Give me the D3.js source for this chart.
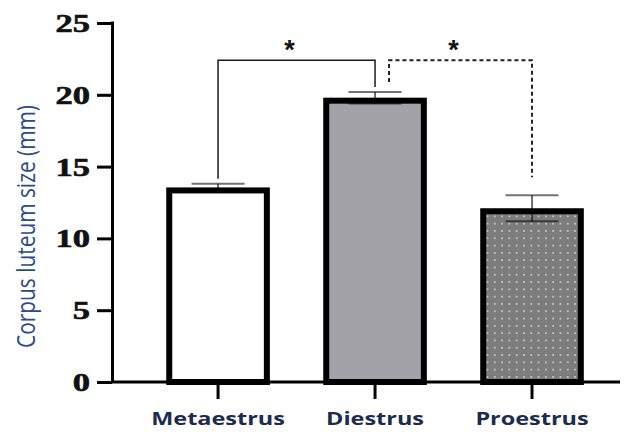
<!DOCTYPE html>
<html><head><meta charset="utf-8">
<script src="https://cdn.jsdelivr.net/npm/d3@7"></script>
<style>html,body{margin:0;padding:0;background:#fff;} svg{display:block}</style>
</head><body>
<script>
// ---- data ----
const categories = ["Metaestrus", "Diestrus", "Proestrus"];
const means = [13.55, 19.8, 12.1];
const sems = [0.25, 0.4, 0.9];
const yTicks = [0, 5, 10, 15, 20, 25];
const yLabel = "Corpus luteum size (mm)";
const compFrom = ["Metaestrus", "Diestrus"];
const compTo = ["Diestrus", "Proestrus"];
const compLabels = ["*", "*"];
const compLevel = [22.4, 22.4];

// ---- layout ----
const W = 625, H = 432;
const axisX = 112, axisY = 382, topY = 23, rightX = 620;
const stretch = 1.38;

const svg = d3.select("body").append("svg").attr("width", W).attr("height", H)
  .style("background", "#fff");

const defs = svg.append("defs");
const pat = defs.append("pattern").attr("id", "dots").attr("patternUnits", "userSpaceOnUse")
  .attr("width", 7.3).attr("height", 7.3).attr("x", 2).attr("y", 1);
pat.append("rect").attr("width", 7.3).attr("height", 7.3).attr("fill", "#7d7d7d");
pat.append("circle").attr("cx", 3.65).attr("cy", 3.65).attr("r", 0.9).attr("fill", "#d8d8d8");

const y = d3.scaleLinear().domain([0, 25]).range([axisY, topY]);
const x = d3.scaleBand().domain(categories).range([axisX, rightX])
  .paddingInner(0.34).paddingOuter(0.288).align(0.6);

const fills = ["#ffffff", "#a3a2a8", "url(#dots)"];
const bw = x.bandwidth();
const bs = 6;

// bars
const data = categories.map((c, i) => ({c, m: means[i], s: sems[i], f: fills[i]}));
svg.append("g").selectAll("rect").data(data).join("rect")
  .attr("x", d => x(d.c) + bs / 2)
  .attr("y", d => y(d.m) + bs / 2)
  .attr("width", bw - bs)
  .attr("height", d => y(0) - y(d.m) - bs / 2)
  .attr("fill", d => d.f)
  .attr("stroke", "#000").attr("stroke-width", bs);

// error bars
const eb = svg.append("g");
const capW = 53;
data.forEach(d => {
  const cx = x(d.c) + bw / 2;
  eb.append("line").attr("x1", cx).attr("x2", cx)
    .attr("y1", y(d.m + d.s)).attr("y2", y(d.m - d.s))
    .attr("stroke", "#000").attr("stroke-opacity", 0.75).attr("stroke-width", 1.5);
  [d.m + d.s, d.m - d.s].forEach(v => {
    eb.append("line").attr("x1", cx - capW / 2).attr("x2", cx + capW / 2)
      .attr("y1", y(v)).attr("y2", y(v))
      .attr("stroke", "#000").attr("stroke-opacity", 0.55).attr("stroke-width", 2);
  });
});

// significance brackets
const br = svg.append("g");
const legGaps = [[5, 5], [10, 18]];
const legShift = [[0, 0], [14, 0]];
compFrom.forEach((a, i) => {
  const b = compTo[i];
  const ia = categories.indexOf(a), ib = categories.indexOf(b);
  const xa = x(a) + bw / 2 + legShift[i][0];
  const xb = x(b) + bw / 2 + legShift[i][1];
  const yl = y(compLevel[i]);
  const ya = y(means[ia] + sems[ia]) - legGaps[i][0];
  const yb = y(means[ib] + sems[ib]) - legGaps[i][1];
  br.append("path")
    .attr("d", `M${xa},${ya}V${yl}H${xb}V${yb}`)
    .attr("fill", "none")
    .attr("stroke", i === 0 ? "#1a1a1a" : "#222")
    .attr("stroke-width", i === 0 ? 1.5 : 2)
    .attr("stroke-dasharray", i === 0 ? null : "4,3");
  br.append("text").attr("x", (xa + xb) / 2 - 7).attr("y", yl - 1)
    .attr("text-anchor", "middle")
    .attr("font-family", "Liberation Sans, Arial, sans-serif")
    .attr("font-weight", "bold").attr("font-size", 27).attr("fill", "#111")
    .text(compLabels[i]);
});

// y axis
const gy = svg.append("g").attr("transform", `translate(${axisX},0)`)
  .call(d3.axisLeft(y).tickValues(yTicks).tickSize(15).tickSizeOuter(0).tickFormat(d3.format("d")));
gy.select(".domain").attr("stroke", "#000").attr("stroke-width", 3)
  .attr("d", `M0.5,${topY - 1.5}V${axisY}`);
gy.selectAll(".tick line").attr("stroke", "#000").attr("stroke-width", 3);
gy.selectAll(".tick text")
  .attr("font-family", "Liberation Serif, Times New Roman, serif")
  .attr("font-weight", "bold").attr("font-size", 25).attr("fill", "#111")
  .attr("stroke", "#111").attr("stroke-width", 0.6)
  .attr("x", -22 / stretch).attr("dy", "0.34em")
  .attr("transform", `scale(${stretch},1)`);

// x axis
const gx = svg.append("g").attr("transform", `translate(0,${axisY})`)
  .call(d3.axisBottom(x).tickSize(17).tickSizeOuter(0));
gx.select(".domain").attr("stroke", "#000").attr("stroke-width", 3)
  .attr("d", `M${axisX - 1},0H${rightX}`);
gx.selectAll(".tick line").attr("stroke", "#000").attr("stroke-width", 3);
gx.selectAll(".tick text")
  .attr("font-family", "Open Sans, sans-serif")
  .attr("font-weight", "bold").attr("font-size", 17).attr("fill", "#1e2b50")
  .attr("y", 43).attr("dy", 0)
  .attr("transform", `scale(${stretch},1)`);

// y label
svg.append("text")
  .attr("transform", `translate(35,${(105 + 348) / 2}) scale(${stretch},1) rotate(-90)`)
  .attr("text-anchor", "middle")
  .attr("font-family", "Open Sans, sans-serif")
  .attr("font-size", 19).attr("fill", "#2b4c8c")
  .attr("textLength", 243).attr("lengthAdjust", "spacingAndGlyphs")
  .text(yLabel);
</script>
</body></html>
